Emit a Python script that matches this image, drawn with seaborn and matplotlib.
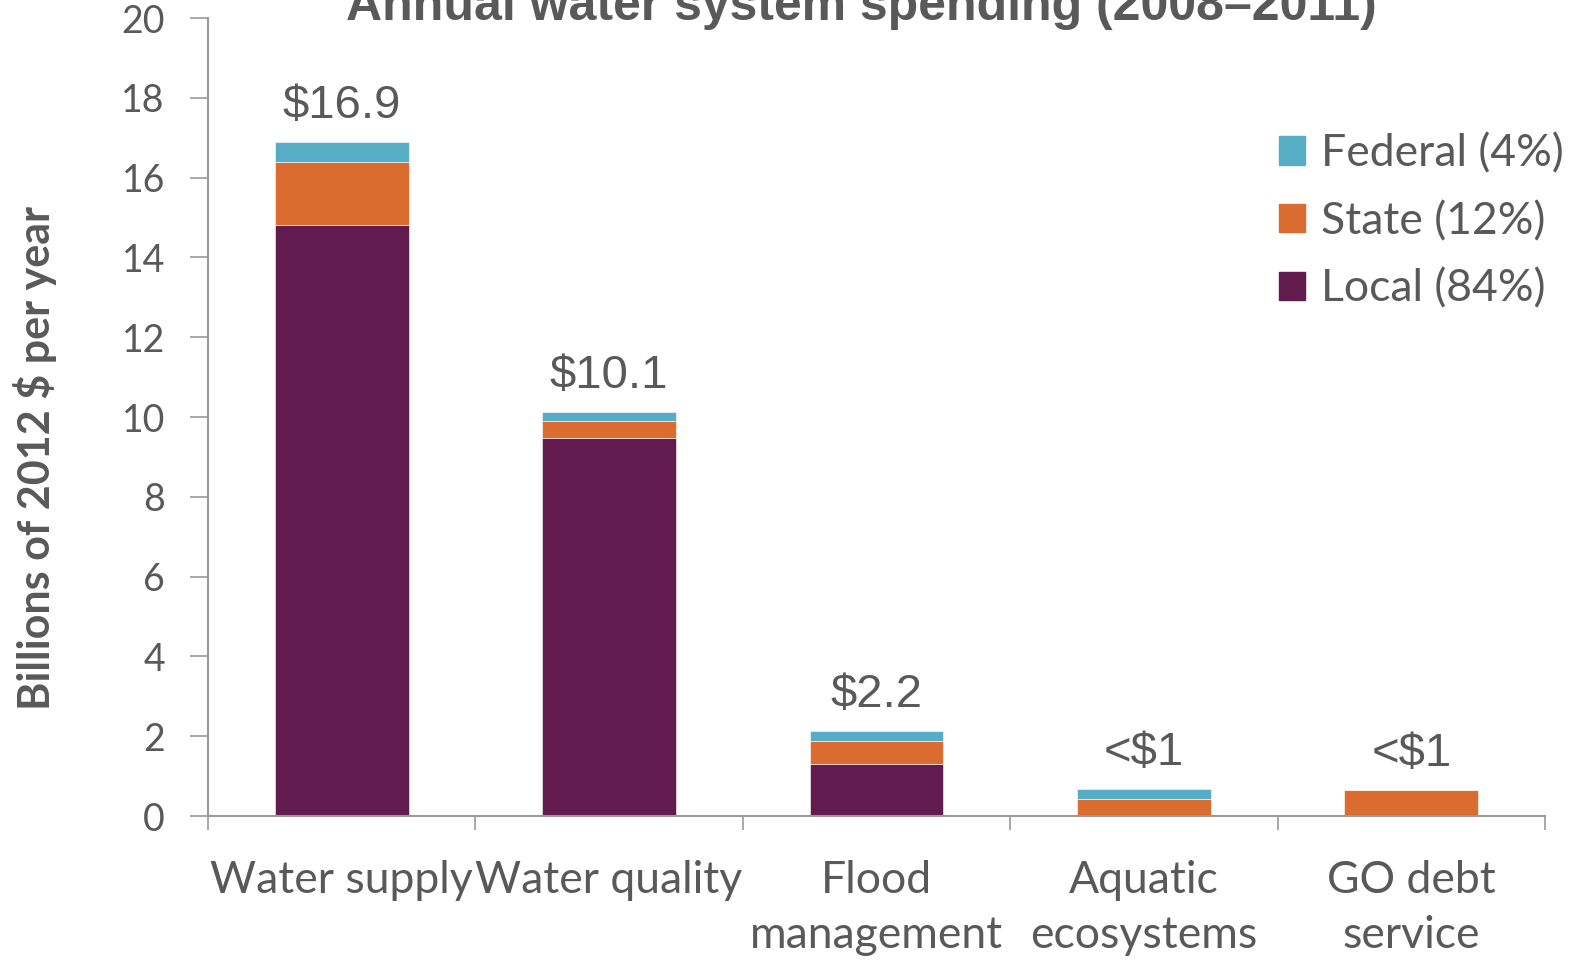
import pandas as pd
import seaborn as sns
import matplotlib.pyplot as plt
from matplotlib.patches import Patch

categories = ["Water supply", "Water quality", "Flood\nmanagement", "Aquatic\necosystems", "GO debt\nservice"]
local = [14.8, 9.47, 1.3, 0.0, 0.0]
state = [1.6, 0.43, 0.58, 0.43, 0.65]
federal = [0.5, 0.23, 0.25, 0.25, 0.0]
totals_text = ["$16.9", "$10.1", "$2.2", "<$1", "<$1"]
legend_labels = ["Federal (4%)", "State (12%)", "Local (84%)"]

c_local = "#621B4E"
c_state = "#D96C2E"
c_fed = "#58ADC6"
grey = "#595959"

sns.set_style("white")
plt.rcParams['font.family'] = ['Lato', 'DejaVu Sans']

df = pd.DataFrame({"cat": categories, "local": local, "state": state, "federal": federal})
df["base_fed"] = df["local"] + df["state"]

fig = plt.figure(figsize=(15.72, 9.63), dpi=100)
ax = fig.add_axes([0.1323, 0.1526, 0.8505, 0.8287])

sns.barplot(data=df, x="cat", y="local", color=c_local, width=0.5, saturation=1, ax=ax)
sns.barplot(data=df, x="cat", y="state", bottom=df["local"], color=c_state, width=0.5, saturation=1, ax=ax)
sns.barplot(data=df, x="cat", y="federal", bottom=df["base_fed"], color=c_fed, width=0.5, saturation=1, ax=ax)
for p in ax.patches:
    p.set_edgecolor("white")
    p.set_linewidth(0.4)

tops = df["base_fed"] + df["federal"]
for i, (t, s) in enumerate(zip(tops, totals_text)):
    ax.text(i, t + 0.35, s, ha="center", va="bottom", fontsize=34, color=grey,
            family=['Liberation Sans', 'DejaVu Sans'])

ax.set_xlim(-0.5, 4.5)
ax.set_ylim(0, 20)
ax.set_yticks(range(0, 21, 2))
ax.set_xlabel("")
ax.set_ylabel("Billions of 2012 $ per year", fontsize=31, fontweight="bold", color=grey)
ax.yaxis.set_label_coords(-0.113, 0.449)
ax.tick_params(axis="y", labelsize=27, labelcolor=grey, direction="out", length=13, color="#9a9a9a", width=1.2, left=True, pad=18)
ax.tick_params(axis="x", which="major", labelsize=32, labelcolor=grey, length=0, pad=32)
for lbl in ax.get_xticklabels():
    lbl.set_linespacing(1.4)
ax.set_xticks([x - 0.5 for x in range(6)], minor=True)
ax.tick_params(axis="x", which="minor", direction="out", length=10, color="#9a9a9a", width=1.2, bottom=True)
for side in ["top", "right"]:
    ax.spines[side].set_visible(False)
for side in ["left", "bottom"]:
    ax.spines[side].set_color("#9a9a9a")
    ax.spines[side].set_linewidth(1.5)

handles = [Patch(color=c_fed), Patch(color=c_state), Patch(color=c_local)]
fig.legend(handles, legend_labels, loc="upper left", bbox_to_anchor=(0.8135, 0.862), frameon=False,
           fontsize=32, labelcolor=grey, handlelength=0.6, handleheight=0.6, handletextpad=0.35,
           labelspacing=0.6, borderaxespad=0, borderpad=0)

fig.text(0.548, 0.979, "Annual water system spending (2008\u20132011)", ha="center", va="baseline",
         fontsize=36, fontweight="bold", color=grey, family=['Liberation Sans', 'DejaVu Sans'])

fig.savefig("out.png", dpi=100)
